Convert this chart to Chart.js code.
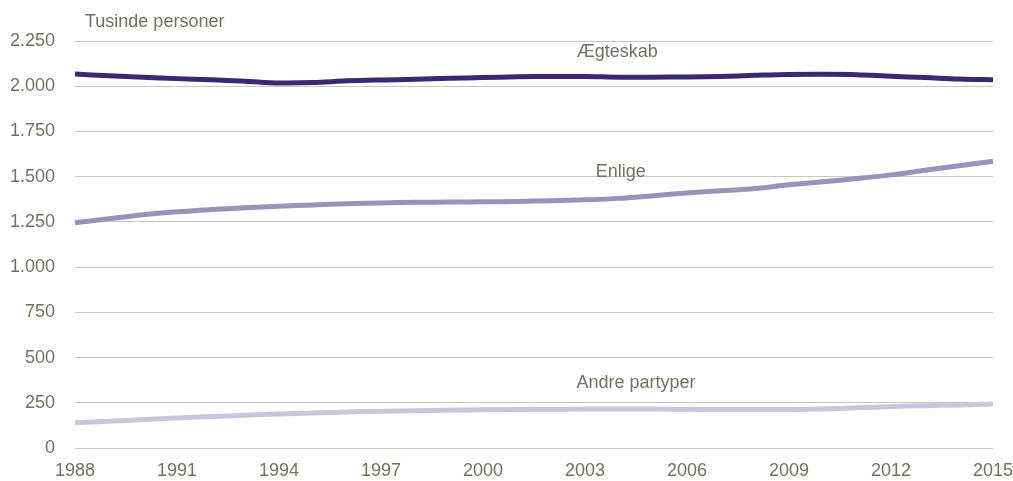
<!DOCTYPE html>
<html>
<head>
<meta charset="utf-8">
<script src="https://cdn.jsdelivr.net/npm/chart.js@4/dist/chart.umd.min.js"></script>
<style>
  html, body { margin: 0; padding: 0; background: #fff; }
  #wrap { width: 1013px; height: 481px; }
</style>
</head>
<body>
<div id="wrap"><canvas id="chart" width="1013" height="481"></canvas></div>
<script>
const years = [];
for (let y = 1988; y <= 2015; y++) years.push(String(y));

const aegteskab = [2067, 2058, 2050, 2042, 2036, 2028, 2018, 2020, 2030, 2035, 2038, 2044, 2048, 2052,
                   2054, 2054, 2050, 2050, 2051, 2054, 2060, 2065, 2066, 2064, 2055, 2048, 2040, 2036];
const enlige = [1245, 1268, 1290, 1306, 1318, 1328, 1337, 1344, 1350, 1355, 1358, 1360, 1361, 1363,
                1367, 1372, 1380, 1395, 1410, 1422, 1435, 1455, 1472, 1490, 1510, 1535, 1560, 1585];
const andre = [140, 148, 157, 166, 174, 181, 188, 194, 199, 203, 206, 209, 211, 213,
               214, 215, 215, 215, 214, 213, 213, 213, 216, 222, 229, 234, 238, 243];

const yTicks = [0, 250, 500, 750, 1000, 1250, 1500, 1750, 2000, 2250];

// series labels written inside the plot (position as year index, value)
const seriesLabels = [
  { text: "Ægteskab", at: 15.95, value: 2188 },
  { text: "Enlige", at: 16.05, value: 1525 },
  { text: "Andre partyper", at: 16.5, value: 359 }
];

const textColor = "#727262";
const fontFamily = "'Liberation Sans', Arial, sans-serif";

function fmt(v) {
  return String(v).replace(/\B(?=(\d{3})+(?!\d))/g, ".");
}

const labelPlugin = {
  id: "labels",
  afterDatasetsDraw(chart) {
    const ctx = chart.ctx;
    const xs = chart.scales.x, ys = chart.scales.y;
    ctx.save();
    ctx.fillStyle = textColor;
    ctx.font = "18px " + fontFamily;
    ctx.textBaseline = "middle";
    ctx.textAlign = "left";
    ctx.fillText("Tusinde personer", 85, 22);
    ctx.textAlign = "center";
    seriesLabels.forEach(l => {
      ctx.fillText(l.text, xs.getPixelForValue(l.at), ys.getPixelForValue(l.value));
    });
    ctx.restore();
  }
};

new Chart(document.getElementById("chart"), {
  type: "line",
  data: {
    labels: years,
    datasets: [
      { label: "Ægteskab", data: aegteskab, borderColor: "#3d2771", borderWidth: 5 },
      { label: "Enlige", data: enlige, borderColor: "#9b92ba", borderWidth: 5 },
      { label: "Andre partyper", data: andre, borderColor: "#cac5df", borderWidth: 5 }
    ]
  },
  options: {
    responsive: false,
    animation: false,
    devicePixelRatio: 1,
    layout: { padding: { top: 41, left: 10, right: 20, bottom: 0 } },
    elements: {
      point: { radius: 0 },
      line: { tension: 0.35, fill: false, borderCapStyle: "butt" }
    },
    plugins: {
      legend: { display: false },
      tooltip: { enabled: false }
    },
    scales: {
      x: {
        offset: false,
        afterFit(scale) {
          scale.height = 33;
          scale.paddingLeft = 0;
          scale.paddingRight = 0;
        },
        grid: { display: false, drawTicks: false },
        border: { display: false },
        ticks: {
          autoSkip: false,
          maxRotation: 0,
          padding: 12,
          color: textColor,
          font: { family: fontFamily, size: 18 },
          callback(v, i) { return i % 3 === 0 ? years[i] : ""; }
        }
      },
      y: {
        min: 0,
        max: 2250,
        afterFit(scale) { scale.width = 65; },
        afterBuildTicks(scale) { scale.ticks = yTicks.map(v => ({ value: v })); },
        grid: { color: "#c9c9bd", lineWidth: 1, drawTicks: false },
        border: { display: false },
        ticks: {
          padding: 20,
          color: textColor,
          font: { family: fontFamily, size: 18 },
          callback(v) { return fmt(v); }
        }
      }
    }
  },
  plugins: [labelPlugin]
});
</script>
</body>
</html>
